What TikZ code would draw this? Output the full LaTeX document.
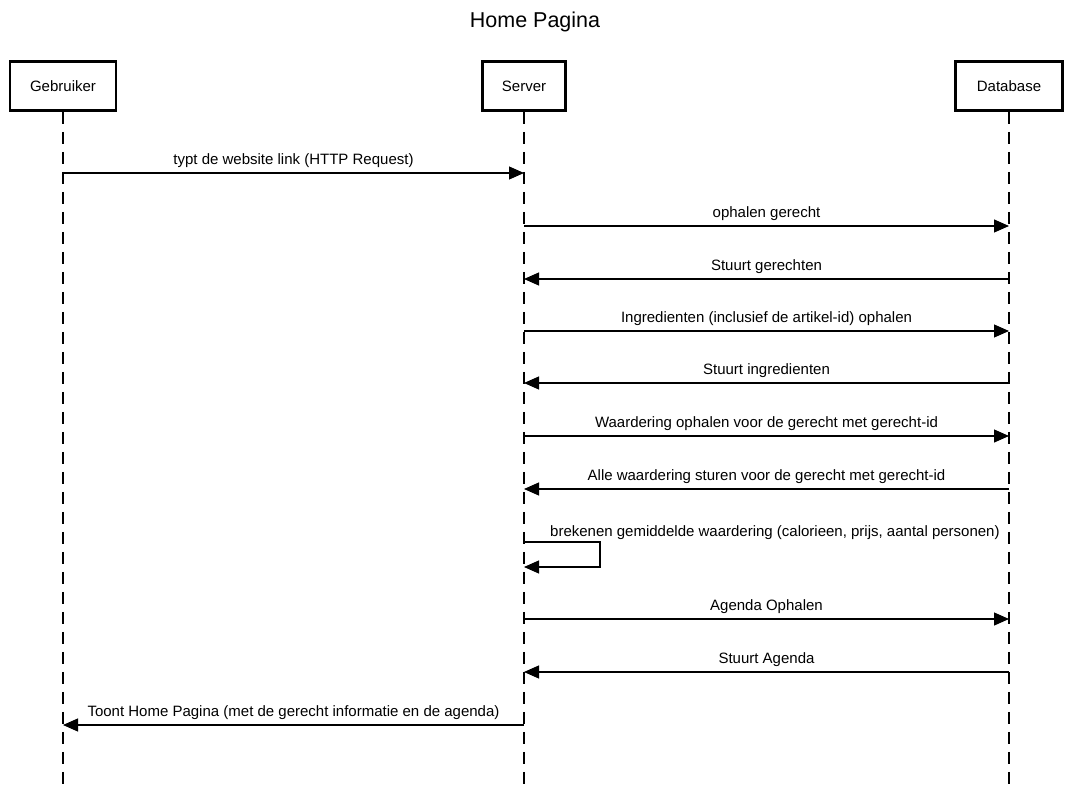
\documentclass[tikz,border=0pt]{standalone}
\usepackage{fontspec}
\setmainfont{Liberation Sans}
\usetikzlibrary{arrows.meta}
\begin{document}
\begin{tikzpicture}[x=1pt,y=-1pt,
  actor/.style={draw,line width=2.6pt,fill=white,minimum width=105pt,minimum height=49pt,font=\fontsize{15}{17}\selectfont,inner sep=0pt},
  life/.style={line width=1.2pt,dash pattern=on 12pt off 8pt},
  msg/.style={line width=1.2pt,-{Triangle[length=15pt,width=13pt]}},
  lbl/.style={font=\fontsize{15}{17}\selectfont,inner sep=0pt,anchor=base}]
\useasboundingbox (0,0) rectangle (1070,791);
\node[font=\fontsize{21.5}{25}\selectfont] (title) at (535,22) {Home Pagina};
\node[actor,minimum width=106pt] (g) at (63,86) {Gebruiker};
\node[actor,minimum width=83pt] (s) at (524,86) {Server};
\node[actor,minimum width=107pt] (d) at (1009,86) {Database};
\coordinate (gend) at (63,795);
\coordinate (send) at (524,795);
\coordinate (dend) at (1009,795);
\draw[life] (g.south) -- (gend);
\draw[life] (s.south) -- (send);
\draw[life] (d.south) -- (dend);
% message anchor points
\foreach \n/\y in {1/173,2/226,3/279,4/331,5/383,6/436,7/489,8/542,9/567,10/619,11/672,12/725}{
  \coordinate (g\n) at (63,\y);
  \coordinate (s\n) at (524,\y);
  \coordinate (d\n) at (1009,\y);
}
\draw[msg] (g1) -- node[lbl,above=5pt] {typt de website link (HTTP Request)} (s1);
\draw[msg] (s2) -- node[lbl,above=5pt] {ophalen gerecht} (d2);
\draw[msg] (d3) -- node[lbl,above=5pt] {Stuurt gerechten} (s3);
\draw[msg] (s4) -- node[lbl,above=5pt] {Ingredienten (inclusief de artikel-id) ophalen} (d4);
\draw[msg] (d5) -- node[lbl,above=5pt] {Stuurt ingredienten} (s5);
\draw[msg] (s6) -- node[lbl,above=5pt] {Waardering ophalen voor de gerecht met gerecht-id} (d6);
\draw[msg] (d7) -- node[lbl,above=5pt] {Alle waardering sturen voor de gerecht met gerecht-id} (s7);
\coordinate (loopa) at (600,542);
\coordinate (loopb) at (600,567);
\draw[msg] (s8) -- (loopa) -- (loopb) -- (s9);
\node[lbl,anchor=base west] (selflbl) at (550,536) {brekenen gemiddelde waardering (calorieen, prijs, aantal personen)};
\draw[msg] (s10) -- node[lbl,above=5pt] {Agenda Ophalen} (d10);
\draw[msg] (d11) -- node[lbl,above=5pt] {Stuurt Agenda} (s11);
\draw[msg] (s12) -- node[lbl,above=5pt] {Toont Home Pagina (met de gerecht informatie en de agenda)} (g12);
\end{tikzpicture}
\end{document}
